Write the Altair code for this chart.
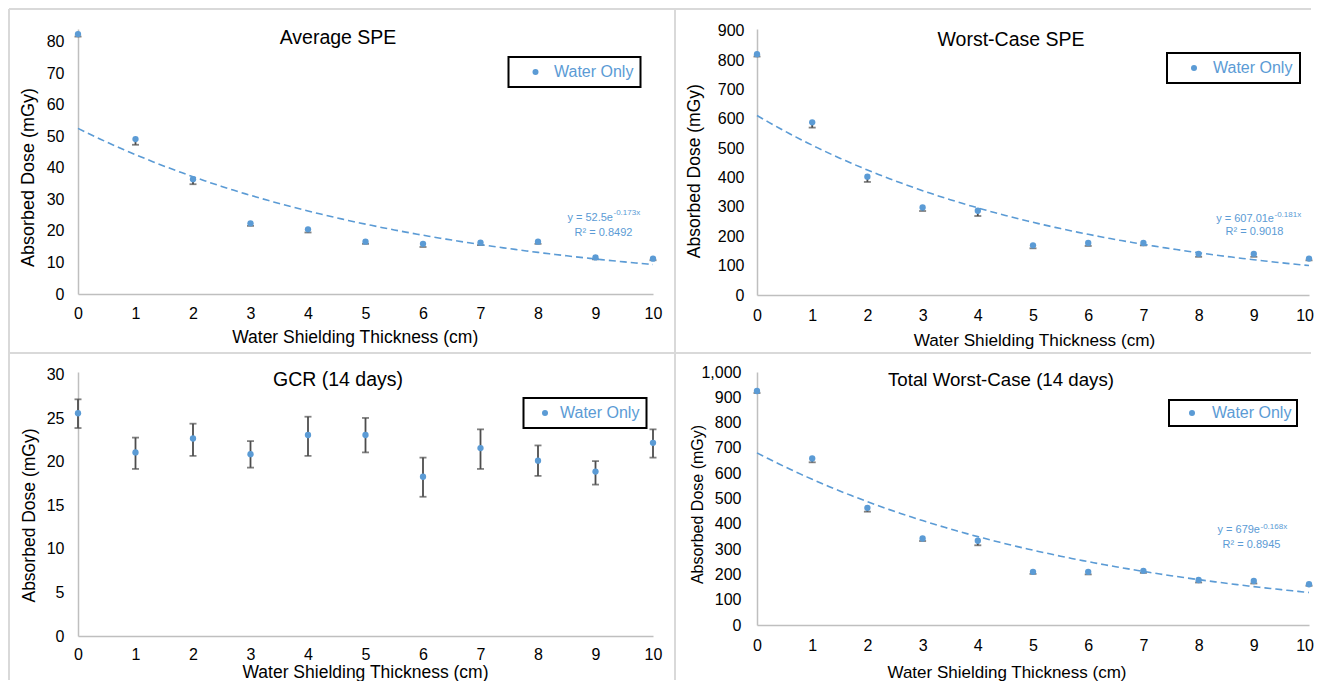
import altair as alt
import pandas as pd

# ---------------- data ----------------
x_vals = [0, 1, 2, 3, 4, 5, 6, 7, 8, 9, 10]
x_ticks = [0, 1, 2, 3, 4, 5, 6, 7, 8, 9, 10]

avg_spe = [82.4, 49.1, 36.4, 22.4, 20.5, 16.6, 15.9, 16.3, 16.6, 11.6, 11.2]
avg_spe_err = [0.8, 1.8, 1.6, 0.8, 1.0, 0.7, 1.0, 0.8, 0.7, 0.6, 0.5]

worst_spe = [820, 588, 403, 298, 287, 169, 177, 177, 140, 140, 124]
worst_spe_err = [8, 18, 18, 12, 18, 10, 10, 8, 10, 10, 6]

gcr = [25.6, 21.1, 22.7, 20.9, 23.1, 23.1, 18.3, 21.6, 20.15, 18.9, 22.2]
gcr_hi = [27.2, 22.8, 24.4, 22.4, 25.2, 25.06, 20.5, 23.75, 21.9, 20.1, 23.75]
gcr_lo = [23.9, 19.2, 20.7, 19.35, 20.7, 21.1, 16.0, 19.2, 18.4, 17.4, 20.5]

total = [925, 658, 463, 342, 333, 210, 210, 214, 178, 174, 161]
total_err = [8, 15, 15, 10, 18, 8, 10, 8, 10, 10, 6]

ticks_avg = [0, 10, 20, 30, 40, 50, 60, 70, 80]
ticks_worst = [0, 100, 200, 300, 400, 500, 600, 700, 800, 900]
ticks_gcr = [0, 5, 10, 15, 20, 25, 30]
ticks_total = [0, 100, 200, 300, 400, 500, 600, 700, 800, 900, 1000]

series_name = "Water Only"
x_title = "Water Shielding Thickness (cm)"
y_title = "Absorbed Dose (mGy)"

BLUE = "#5B9BD5"
ERRC = "#4D4D4D"
FRAME = "#D9D9D9"
FONT = "Liberation Sans"


def one_row():
    return alt.Data(values=[{"k": 1}])


def txt(s, x, y, size, color="#000000", align="center", baseline="alphabetic"):
    return alt.Chart(one_row()).mark_text(
        text=s, font=FONT, fontSize=size, color=color, align=align, baseline=baseline
    ).encode(x=alt.value(x), y=alt.value(y))


def hrule(x1, x2, y):
    return alt.Chart(one_row()).mark_rule(color=FRAME, strokeWidth=2).encode(
        x=alt.value(x1), x2=alt.value(x2), y=alt.value(y)
    )


def vrule(x, y1, y2):
    return alt.Chart(one_row()).mark_rule(color=FRAME, strokeWidth=2).encode(
        x=alt.value(x), y=alt.value(y1), y2=alt.value(y2)
    )


def panel(c):
    n = len(x_vals)
    df = pd.DataFrame({
        "x": x_vals, "y": c["y"], "lo": c["lo"], "hi": c["hi"],
        "series": [series_name] * n,
    })
    xsc = alt.Scale(domain=[0, 10], nice=False, zero=False)
    ysc = alt.Scale(domain=[0, c["ymax"]], nice=False)
    xkw = dict(values=x_ticks, tickSize=0, labelPadding=c["xlp"], labelFlush=c["flush"],
               titleX=c["xt"][0], titleY=c["xt"][1], titleBaseline="alphabetic",
               titleAlign="center", titleFontSize=c["xt"][2], labelOverlap=False)
    if c["flush"]:
        xkw["labelFlushOffset"] = c["flushoff"]
    xax = alt.Axis(**xkw)
    yax = alt.Axis(values=c["yticks"], format=c["yfmt"], tickSize=0, labelPadding=c["ylp"],
                   titleAngle=270, titleX=c["yt"][0], titleY=c["yt"][1],
                   titleBaseline="alphabetic", titleAlign="center",
                   titleFontSize=c["yt"][2], labelOverlap=False)

    def X(f):
        return alt.X(f, title=x_title, scale=xsc, axis=xax)

    def Y(f):
        return alt.Y(f, title=y_title, scale=ysc, axis=yax)

    base = alt.Chart(df)
    layers = []
    layers.append(base.mark_rule(color=ERRC, strokeWidth=1.8).encode(
        x=X("x:Q"), y=Y("lo:Q"), y2="hi:Q"))
    layers.append(base.mark_tick(color=ERRC, thickness=1.8, size=7, orient="horizontal").encode(
        x=X("x:Q"), y=Y("lo:Q")))
    if c["captop"]:
        layers.append(base.mark_tick(color=ERRC, thickness=1.8, size=7, orient="horizontal").encode(
            x=X("x:Q"), y=Y("hi:Q")))
    if c["eq"] is not None:
        trend = base.transform_calculate(
            ly="log(datum.y)"
        ).transform_calculate(
            xly="datum.x * datum.ly", xx="datum.x * datum.x"
        ).transform_aggregate(
            mx="mean(x)", my="mean(ly)", mxy="mean(xly)", mxx="mean(xx)",
            x0="min(x)", x1="max(x)"
        ).transform_calculate(
            b="(datum.mxy - datum.mx * datum.my) / (datum.mxx - datum.mx * datum.mx)"
        ).transform_calculate(
            a="exp(datum.my - datum.b * datum.mx)",
            xs="sequence(datum.x0, datum.x1 + 0.05, 0.1)"
        ).transform_flatten(["xs"]).transform_calculate(
            yf="datum.a * exp(datum.b * datum.xs)"
        ).mark_line(color=BLUE, strokeWidth=1.6, strokeDash=[7, 4]).encode(
            x=X("xs:Q"), y=Y("yf:Q"))
        layers.append(trend)
    lg = c["legend"]
    layers.append(base.mark_circle(size=40, opacity=1).encode(
        x=X("x:Q"), y=Y("y:Q"),
        color=alt.Color("series:N", title=None, scale=alt.Scale(range=[BLUE]),
                        legend=alt.Legend(orient="none", legendX=lg[0], legendY=lg[1],
                                          padding=lg[4], strokeColor="#000000",
                                          symbolOffset=lg[2], labelOffset=lg[3],
                                          symbolType="circle", symbolSize=36,
                                          symbolFillColor=BLUE, symbolStrokeWidth=0,
                                          labelFont=FONT, labelFontSize=16,
                                          labelColor=BLUE))))
    t = c["title"]
    layers.append(txt(t[0], t[1], t[2], t[3]))
    if c["eq"] is not None:
        e = c["eq"]
        layers.append(txt(e[0], e[3][0], e[3][1], 11, BLUE, "right", "middle"))
        layers.append(txt(e[1], e[4][0], e[4][1], 8, BLUE, "left", "middle"))
        layers.append(txt(e[2], e[5][0], e[5][1], 11, BLUE, "center", "middle"))
    layers.extend(c.get("extra", []))
    return alt.layer(*layers).properties(width=c["W"], height=c["H"])


tl = panel(dict(
    y=avg_spe, lo=[v - e for v, e in zip(avg_spe, avg_spe_err)], hi=avg_spe,
    ymax=84.0, yticks=ticks_avg, yfmt="d", W=575, H=265, xlp=11.5, ylp=14,
    flush=False, flushoff=0, xt=(276.7, 48, 17.5), yt=(-45, 148, 18),
    title=("Average SPE", 260, 15, 19.5), legend=(430.5, 28, 12, 10.5, 7),
    eq=("y = 52.5e", "-0.173x", "R\u00b2 = 0.8492", (535, 189), (535.5, 184), (525.5, 204)),
    captop=False,
    extra=[hrule(-69, 1233, -20), hrule(-69, 1233, 324), vrule(-69, -20, 651), vrule(597, -20, 651)],
))

tr = panel(dict(
    y=worst_spe, lo=[v - e for v, e in zip(worst_spe, worst_spe_err)], hi=worst_spe,
    ymax=905.8, yticks=ticks_worst, yfmt="d", W=552, H=266, xlp=12, ylp=13,
    flush=True, flushoff=4.5, xt=(277, 50.5, 17.2), yt=(-58, 141.7, 17.5),
    title=("Worst-Case SPE", 254, 17, 19.5), legend=(410, 24, 12, 11, 7),
    eq=("y = 607.01e", "-0.181x", "R\u00b2 = 0.9018", (517, 190), (517.5, 186), (497.5, 203)),
    captop=False,
))

bl = panel(dict(
    y=gcr, lo=gcr_lo, hi=gcr_hi,
    ymax=30.34, yticks=ticks_gcr, yfmt="d", W=575, H=264, xlp=10, ylp=14,
    flush=False, flushoff=0, xt=(287, 41, 17.5), yt=(-43.5, 143, 17.5),
    title=("GCR (14 days)", 260, 14, 19.5), legend=(445.5, 26, 6.5, 7, 7),
    eq=None, captop=True,
))

br = panel(dict(
    y=total, lo=[v - e for v, e in zip(total, total_err)], hi=total,
    ymax=1000, yticks=ticks_total, yfmt=",d", W=552, H=253, xlp=12, ylp=16,
    flush=True, flushoff=4.5, xt=(249.5, 52, 17), yt=(-55, 132, 16),
    title=("Total Worst-Case (14 days)", 244, 14, 18.7), legend=(412, 28, 10, 12, 5),
    eq=("y = 679e", "-0.168x", "R\u00b2 = 0.8945", (503, 158), (503.5, 154.7), (494.5, 173)),
    captop=False,
))

chart = alt.concat(
    tl, tr, bl, br, columns=2, spacing={"row": 77, "column": 104},
    bounds="flush", align="each", padding=0, background="white",
).resolve_scale(color="independent").resolve_legend(color="independent").configure_axis(
    grid=False, ticks=False, domainColor="#BFBFBF", domainWidth=1.5,
    labelFont=FONT, labelFontSize=16, labelColor="#000000",
    titleFont=FONT, titleColor="#000000", titleFontWeight="normal",
).configure_view(strokeWidth=0).configure_legend(strokeWidth=2)

chart.save("out.html", embed_options={"renderer": "svg", "actions": False})
